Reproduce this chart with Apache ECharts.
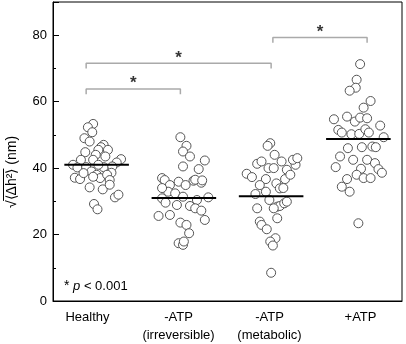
<!DOCTYPE html>
<html>
<head>
<meta charset="utf-8">
<script src="https://cdn.jsdelivr.net/npm/echarts@6/dist/echarts.min.js"></script>
<style>
  html, body { margin: 0; padding: 0; background: #fff; }
  #chart { width: 406px; height: 344px; }
</style>
</head>
<body>
<div id="chart"></div>
<script>
// group labels
var categories = ['Healthy', '-ATP\n(irreversible)', '-ATP\n(metabolic)', '+ATP'];

// points per group: [horizontal spread, value in nm]
var healthy = [
  [-0.04, 53.3], [-0.10, 52.3], [-0.05, 50.8], [-0.14, 49.0], [-0.08, 48.0], [0.08, 47.0],
  [0.05, 46.3], [0.02, 45.5], [0.13, 45.5], [-0.13, 44.8], [-0.01, 44.0], [0.10, 43.5],
  [-0.18, 42.5], [-0.04, 42.5], [0.28, 42.7], [0.23, 41.7], [-0.27, 41.0], [-0.22, 40.2],
  [-0.12, 40.3], [-0.06, 39.0], [0.00, 38.0], [0.08, 40.3], [0.18, 40.5], [0.17, 38.6],
  [0.04, 37.0], [-0.04, 37.4], [0.12, 38.0], [-0.25, 37.1], [-0.19, 36.7], [0.15, 36.4],
  [-0.08, 34.2], [0.07, 33.6], [0.21, 31.2], [0.25, 32.0], [-0.03, 29.2], [0.01, 27.6],
  [0.02, 41.0], [-0.15, 38.5], [0.15, 35.0]
];
var irreversible = [
  [-0.04, 49.3], [0.03, 46.7], [-0.01, 45.0], [0.07, 43.5], [0.24, 42.3], [-0.01, 40.5],
  [0.17, 39.7], [-0.25, 37.0], [-0.22, 36.4], [-0.06, 35.9], [0.11, 36.2], [0.20, 35.6],
  [-0.16, 34.9], [0.02, 34.9], [-0.18, 32.9], [-0.10, 32.4], [-0.25, 30.9], [-0.01, 31.4],
  [0.15, 30.4], [0.28, 31.2], [-0.21, 29.6], [-0.08, 28.9], [0.07, 28.6], [0.13, 27.9],
  [0.20, 27.2], [-0.29, 25.6], [-0.16, 25.9], [0.24, 24.4], [-0.04, 23.6], [0.03, 22.9],
  [0.06, 20.4], [-0.06, 17.4], [-0.01, 16.9], [0.00, 17.9], [-0.25, 34.0], [0.13, 36.5],
  [0.21, 36.3]
];
var metabolic = [
  [-0.01, 47.5], [-0.04, 46.7], [0.04, 44.0], [0.12, 42.0], [-0.16, 41.3], [-0.11, 42.0],
  [-0.03, 40.0], [0.03, 40.0], [0.18, 39.5], [-0.28, 38.3], [-0.22, 37.3], [-0.06, 36.7],
  [0.16, 36.7], [-0.13, 34.9], [0.06, 35.4], [0.10, 33.9], [-0.18, 32.2], [-0.06, 32.9],
  [-0.02, 30.4], [0.07, 28.4], [0.10, 28.6], [0.15, 29.4], [-0.16, 27.9], [0.03, 27.9],
  [0.07, 24.9], [-0.13, 23.9], [-0.11, 22.9], [-0.05, 21.6], [0.05, 18.9], [-0.01, 17.9],
  [0.02, 16.7], [0.00, 8.5], [0.28, 41.0], [0.22, 38.0], [0.14, 34.0], [0.18, 29.9],
  [0.25, 42.5], [0.30, 43.0]
];
var plusAtp = [
  [0.02, 71.3], [-0.02, 66.6], [-0.03, 64.2], [-0.10, 63.3], [0.14, 60.2], [0.06, 58.2],
  [-0.28, 54.7], [-0.13, 55.5], [-0.04, 54.0], [0.02, 55.2], [0.10, 55.0], [0.25, 52.8],
  [-0.23, 51.5], [-0.19, 50.7], [-0.08, 50.2], [0.01, 50.3], [0.08, 51.7], [0.12, 50.7],
  [0.29, 49.3], [-0.12, 46.0], [0.04, 46.3], [0.16, 46.5], [0.20, 46.3], [-0.21, 43.5],
  [-0.06, 42.5], [0.10, 42.5], [0.19, 41.5], [-0.26, 40.3], [0.03, 39.8], [0.23, 39.7],
  [0.27, 38.6], [-0.02, 38.0], [0.06, 37.0], [0.14, 37.0], [-0.13, 36.7], [-0.19, 34.4],
  [-0.10, 32.9], [0.00, 23.4]
];
var groups = [healthy, irreversible, metabolic, plusAtp];

// group means (black bars)
var means = [41.0, 31.0, 31.5, 48.8];

// significance brackets
var bracketFrom = [-0.12, -0.12, 2.02];
var bracketTo = [0.96, 2.00, 3.10];
var bracketY = [63.8, 71.6, 79.3];
var yTicks = [0, 20, 40, 60, 80];

var chart = echarts.init(document.getElementById('chart'));
var font = 'Liberation Sans, Arial, sans-serif';

var series = [];

// points
groups.forEach(function (g, i) {
  series.push({
    type: 'scatter',
    xAxisIndex: 1,
    symbol: 'circle',
    symbolSize: 9,
    itemStyle: { color: '#fff', borderColor: '#555', borderWidth: 1, opacity: 1 },
    data: g.map(function (p) { return [i + p[0], p[1]]; }),
    z: 3
  });
});

// mean bars
means.forEach(function (m, i) {
  series.push({
    type: 'line',
    xAxisIndex: 1,
    symbol: 'none',
    lineStyle: { color: '#000', width: 2 },
    data: [[i - 0.37, m], [i + 0.37, m]],
    z: 4
  });
});

// brackets
var drop = 1.6;
bracketY.forEach(function (y, k) {
  series.push({
    type: 'line',
    xAxisIndex: 1,
    symbol: 'none',
    lineStyle: { color: '#aaa', width: 1.5 },
    data: [[bracketFrom[k], y - drop], [bracketFrom[k], y], [bracketTo[k], y], [bracketTo[k], y - drop]],
    z: 2
  });
});

// stars
series.push({
  type: 'scatter',
  xAxisIndex: 1,
  symbolSize: 0,
  label: {
    show: true, position: 'inside', formatter: '*',
    color: '#000', fontSize: 17, fontWeight: 'bold', fontFamily: font
  },
  data: bracketY.map(function (y, k) { return [(bracketFrom[k] + bracketTo[k]) / 2, y + 1.6]; }),
  z: 5
});

// y axis title, drawn by hand so the overline sits over <dh2>
var ctx = document.createElement('canvas').getContext('2d');
ctx.font = '14px ' + font;
var wRoot = ctx.measureText('\u221A').width;
var wMid = ctx.measureText('\u27E8\u0394h\u00B2\u27E9').width;
var wAll = ctx.measureText('\u221A\u27E8\u0394h\u00B2\u27E9 (nm)').width;
var x0 = -wAll / 2;

var option = {
  animation: false,
  backgroundColor: '#fff',
  grid: [
    { left: 53, right: 4, top: 2, bottom: 43, show: true, borderColor: '#000', borderWidth: 1 },
    // the group names sit a little wider apart than the point clouds
    { left: 42, right: -7, top: 2, bottom: 43, show: false }
  ],
  xAxis: [
    {
      type: 'category',
      data: categories,
      axisLine: { show: true, onZero: false, lineStyle: { color: '#000' } },
      axisTick: { show: false },
      axisLabel: { show: false }
    },
    {
      type: 'value',
      min: -0.5,
      max: 3.5,
      show: false
    },
    {
      type: 'category',
      gridIndex: 1,
      data: categories,
      axisLine: { show: false, onZero: false },
      axisTick: { show: false },
      axisLabel: { interval: 0, color: '#000', fontSize: 13, fontFamily: font, margin: 9, lineHeight: 18 }
    }
  ],
  yAxis: [
    {
      type: 'value',
      position: 'left',
      min: 0,
      max: 90,
      interval: 20,
      axisLine: { show: true, onZero: false, lineStyle: { color: '#000' } },
      axisTick: { show: true, inside: true, length: 6, lineStyle: { color: '#000' } },
      splitLine: { show: false },
      axisLabel: {
        color: '#000', fontSize: 13, fontFamily: font, margin: 6,
        formatter: function (v) { return yTicks.indexOf(v) >= 0 ? String(v) : ''; }
      }
    },
    {
      type: 'value',
      position: 'left',
      min: 0,
      max: 90,
      interval: 10,
      axisLine: { show: false, onZero: false },
      axisTick: { show: true, inside: true, length: 3, lineStyle: { color: '#000' } },
      splitLine: { show: false },
      axisLabel: { show: false }
    },
    {
      type: 'value',
      gridIndex: 1,
      min: 0,
      max: 90,
      show: false
    }
  ],
  graphic: [
    {
      type: 'group',
      x: 12,
      y: 172,
      rotation: Math.PI / 2,
      children: [
        {
          type: 'text',
          x: x0,
          y: 0,
          style: {
            text: '\u221A\u27E8\u0394h\u00B2\u27E9 (nm)',
            fill: '#000',
            font: '14px ' + font,
            verticalAlign: 'middle'
          }
        },
        {
          type: 'line',
          shape: { x1: x0 + wRoot - 0.5, y1: -8.5, x2: x0 + wRoot + wMid, y2: -8.5 },
          style: { stroke: '#000', lineWidth: 1 }
        }
      ]
    },
    {
      type: 'text',
      left: 64,
      top: 279,
      style: {
        text: '{s|*} {p|p} < 0.001',
        fill: '#000',
        font: '13px ' + font,
        rich: {
          s: { fontSize: 14, fontFamily: font },
          p: { fontStyle: 'italic', fontSize: 13, fontFamily: font }
        }
      }
    }
  ],
  series: series
};

chart.setOption(option);
</script>
</body>
</html>
